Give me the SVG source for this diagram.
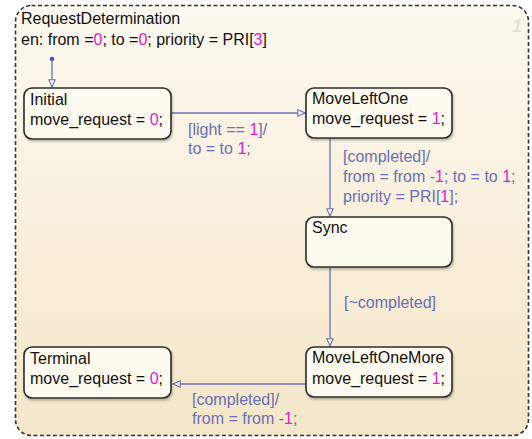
<svg xmlns="http://www.w3.org/2000/svg" width="532" height="439" viewBox="0 0 532 439">
<defs>
<linearGradient id="bg" x1="0" y1="0" x2="0" y2="1">
<stop offset="0" stop-color="#fdf9f0"/>
<stop offset="1" stop-color="#f4e6c8"/>
</linearGradient>
<marker id="arr" viewBox="0 0 10 10" refX="9" refY="5" markerWidth="9" markerHeight="9" markerUnits="userSpaceOnUse" orient="auto">
<path d="M1,1.5 L9,5 L1,8.5 Z" fill="#fdf9f0" stroke="#6b70b5" stroke-width="1.2"/>
</marker>
<filter id="sh" x="-10%" y="-10%" width="130%" height="140%">
<feDropShadow dx="1" dy="2" stdDeviation="1.2" flood-color="#000" flood-opacity="0.25"/>
</filter>
</defs>
<style>
.t{font-family:"Liberation Sans",Arial,sans-serif;font-size:16px;fill:#111}
.l{font-family:"Liberation Sans",Arial,sans-serif;font-size:16px;fill:#6a70b3}
.n{fill:#e020d8}
.box{fill:#fffaf0;stroke:#2b2b2b;stroke-width:1.6}
.edge{fill:none;stroke:#6b70b5;stroke-width:1.3}
</style>
<g id="RequestDetermination">
<rect x="15.5" y="5.5" width="513" height="430" rx="16" fill="url(#bg)" stroke="#333" stroke-width="1.6" stroke-dasharray="4,2.5"/>
<text x="512" y="32" font-family="Liberation Sans,Arial,sans-serif" font-size="18" font-style="italic" font-weight="bold" fill="#e4e0d8">1</text>
<text class="t" x="21" y="24">RequestDetermination</text>
<text class="t" x="21" y="45">en: from =<tspan class="n">0</tspan>; to =<tspan class="n">0</tspan>; priority = PRI[<tspan class="n">3</tspan>]</text>
</g>
<g id="connectors">
<circle cx="52" cy="59" r="2.3" fill="#4a52a0"/>
<path class="edge" d="M52,59 V87" marker-end="url(#arr)"/>
<path class="edge" d="M172,113 H305" marker-end="url(#arr)"/>
<path class="edge" d="M330,139 V216" marker-end="url(#arr)"/>
<path class="edge" d="M330,268 V346" marker-end="url(#arr)"/>
<path class="edge" d="M306,384 H173" marker-end="url(#arr)"/>
<text class="l" x="188" y="135">[light == <tspan class="n">1</tspan>]/</text>
<text class="l" x="188" y="154">to = to <tspan class="n">1</tspan>;</text>
<text class="l" x="343" y="162">[completed]/</text>
<text class="l" x="343" y="182">from = from -<tspan class="n">1</tspan>; to = to <tspan class="n">1</tspan>;</text>
<text class="l" x="343" y="202">priority = PRI[<tspan class="n">1</tspan>];</text>
<text class="l" x="344" y="308">[~completed]</text>
<text class="l" x="192" y="405">[completed]/</text>
<text class="l" x="192" y="424">from = from -<tspan class="n">1</tspan>;</text>
</g>
<g id="Initial">
<rect class="box" x="24" y="88" width="147" height="51" rx="8" filter="url(#sh)"/>
<text class="t" x="30" y="105">Initial</text>
<text class="t" x="30" y="125">move_request = <tspan class="n">0</tspan>;</text>
</g>
<g id="MoveLeftOne">
<rect class="box" x="306" y="88" width="146" height="50" rx="8" filter="url(#sh)"/>
<text class="t" x="312" y="104">MoveLeftOne</text>
<text class="t" x="312" y="124">move_request = <tspan class="n">1</tspan>;</text>
</g>
<g id="Sync">
<rect class="box" x="306" y="217" width="146" height="50" rx="8" filter="url(#sh)"/>
<text class="t" x="312" y="233">Sync</text>
</g>
<g id="MoveLeftOneMore">
<rect class="box" x="306" y="347" width="146" height="50" rx="8" filter="url(#sh)"/>
<text class="t" x="312" y="363">MoveLeftOneMore</text>
<text class="t" x="312" y="384">move_request = <tspan class="n">1</tspan>;</text>
</g>
<g id="Terminal">
<rect class="box" x="24" y="347" width="147" height="51" rx="8" filter="url(#sh)"/>
<text class="t" x="30" y="364">Terminal</text>
<text class="t" x="30" y="384">move_request = <tspan class="n">0</tspan>;</text>
</g>
</svg>
